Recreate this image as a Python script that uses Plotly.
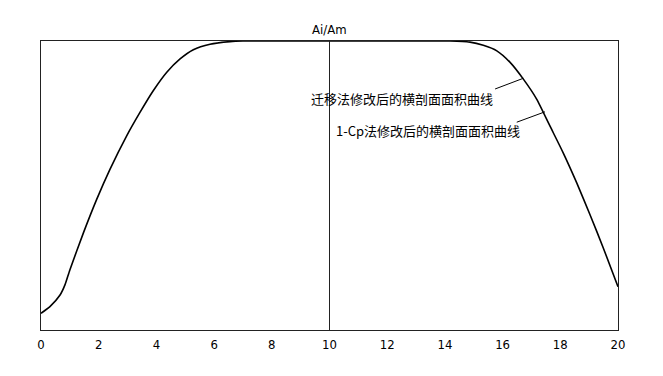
import plotly.graph_objects as go

x_vals = [0, 0.31, 0.66, 0.83, 1.0, 1.47, 1.93, 2.39, 2.97, 3.43, 3.89, 4.36, 4.82, 5.28, 5.86, 6.55, 7.0,
          10.0, 14.18, 14.87, 15.33, 15.80, 16.26, 16.72, 17.18, 17.64, 18.10, 18.57, 19.03, 19.49, 20.0]
y_vals = [0.058, 0.081, 0.121, 0.156, 0.208, 0.336, 0.452, 0.556, 0.672, 0.753, 0.828, 0.892, 0.938, 0.970, 0.989, 0.998, 1.0,
          1.0, 1.0, 0.996, 0.985, 0.966, 0.926, 0.868, 0.799, 0.706, 0.613, 0.509, 0.399, 0.284, 0.150]

x_ticks = [0, 2, 4, 6, 8, 10, 12, 14, 16, 18, 20]
y_label = "Ai/Am"
label_texts = ["迁移法修改后的横剖面面积曲线", "1-Cp法修改后的横剖面面积曲线"]
label_pos = [(12.51, 0.802), (13.40, 0.692)]
leader_lines = [((15.74, 0.834), (16.72, 0.871)), ((16.49, 0.719), (17.47, 0.755))]

narrow = "Liberation Sans Narrow, DejaVu Sans Condensed, Arial Narrow, sans-serif"
cjk = "Noto Sans CJK SC"

fig = go.Figure()
fig.add_trace(go.Scatter(x=x_vals, y=y_vals, mode="lines", line=dict(color="black", width=1.6, shape="spline", smoothing=0.6),
                         hoverinfo="skip", showlegend=False))

fig.add_shape(type="line", xref="x", yref="paper", x0=10, x1=10, y0=0, y1=1, line=dict(color="#222", width=1))
for (p0, p1) in leader_lines:
    fig.add_shape(type="line", xref="x", yref="y", x0=p0[0], y0=p0[1], x1=p1[0], y1=p1[1], line=dict(color="black", width=1))

for txt, (tx, ty) in zip(label_texts, label_pos):
    fig.add_annotation(x=tx, y=ty, text=txt, showarrow=False, xanchor="center", yanchor="middle",
                       font=dict(family=cjk, size=13, color="black"))

fig.add_annotation(x=10, y=1, xref="x", yref="paper", text=y_label, showarrow=False, yanchor="bottom", yshift=2,
                   font=dict(family=narrow, size=13, color="black"))

fig.update_xaxes(range=[0, 20], tickvals=x_ticks, ticktext=[str(t) for t in x_ticks], showline=True, mirror=True,
                 linecolor="#222", linewidth=1, showgrid=False, zeroline=False, ticks="", ticklabelstandoff=2,
                 tickfont=dict(family=narrow, size=13, color="black"))
fig.update_yaxes(range=[0, 1], showline=True, mirror=True, linecolor="#222", linewidth=1, showgrid=False,
                 zeroline=False, showticklabels=False, ticks="")

fig.update_layout(width=663, height=376, margin=dict(l=41, r=45, t=41, b=46), plot_bgcolor="white",
                  paper_bgcolor="white")
fig.write_html("out.html")
